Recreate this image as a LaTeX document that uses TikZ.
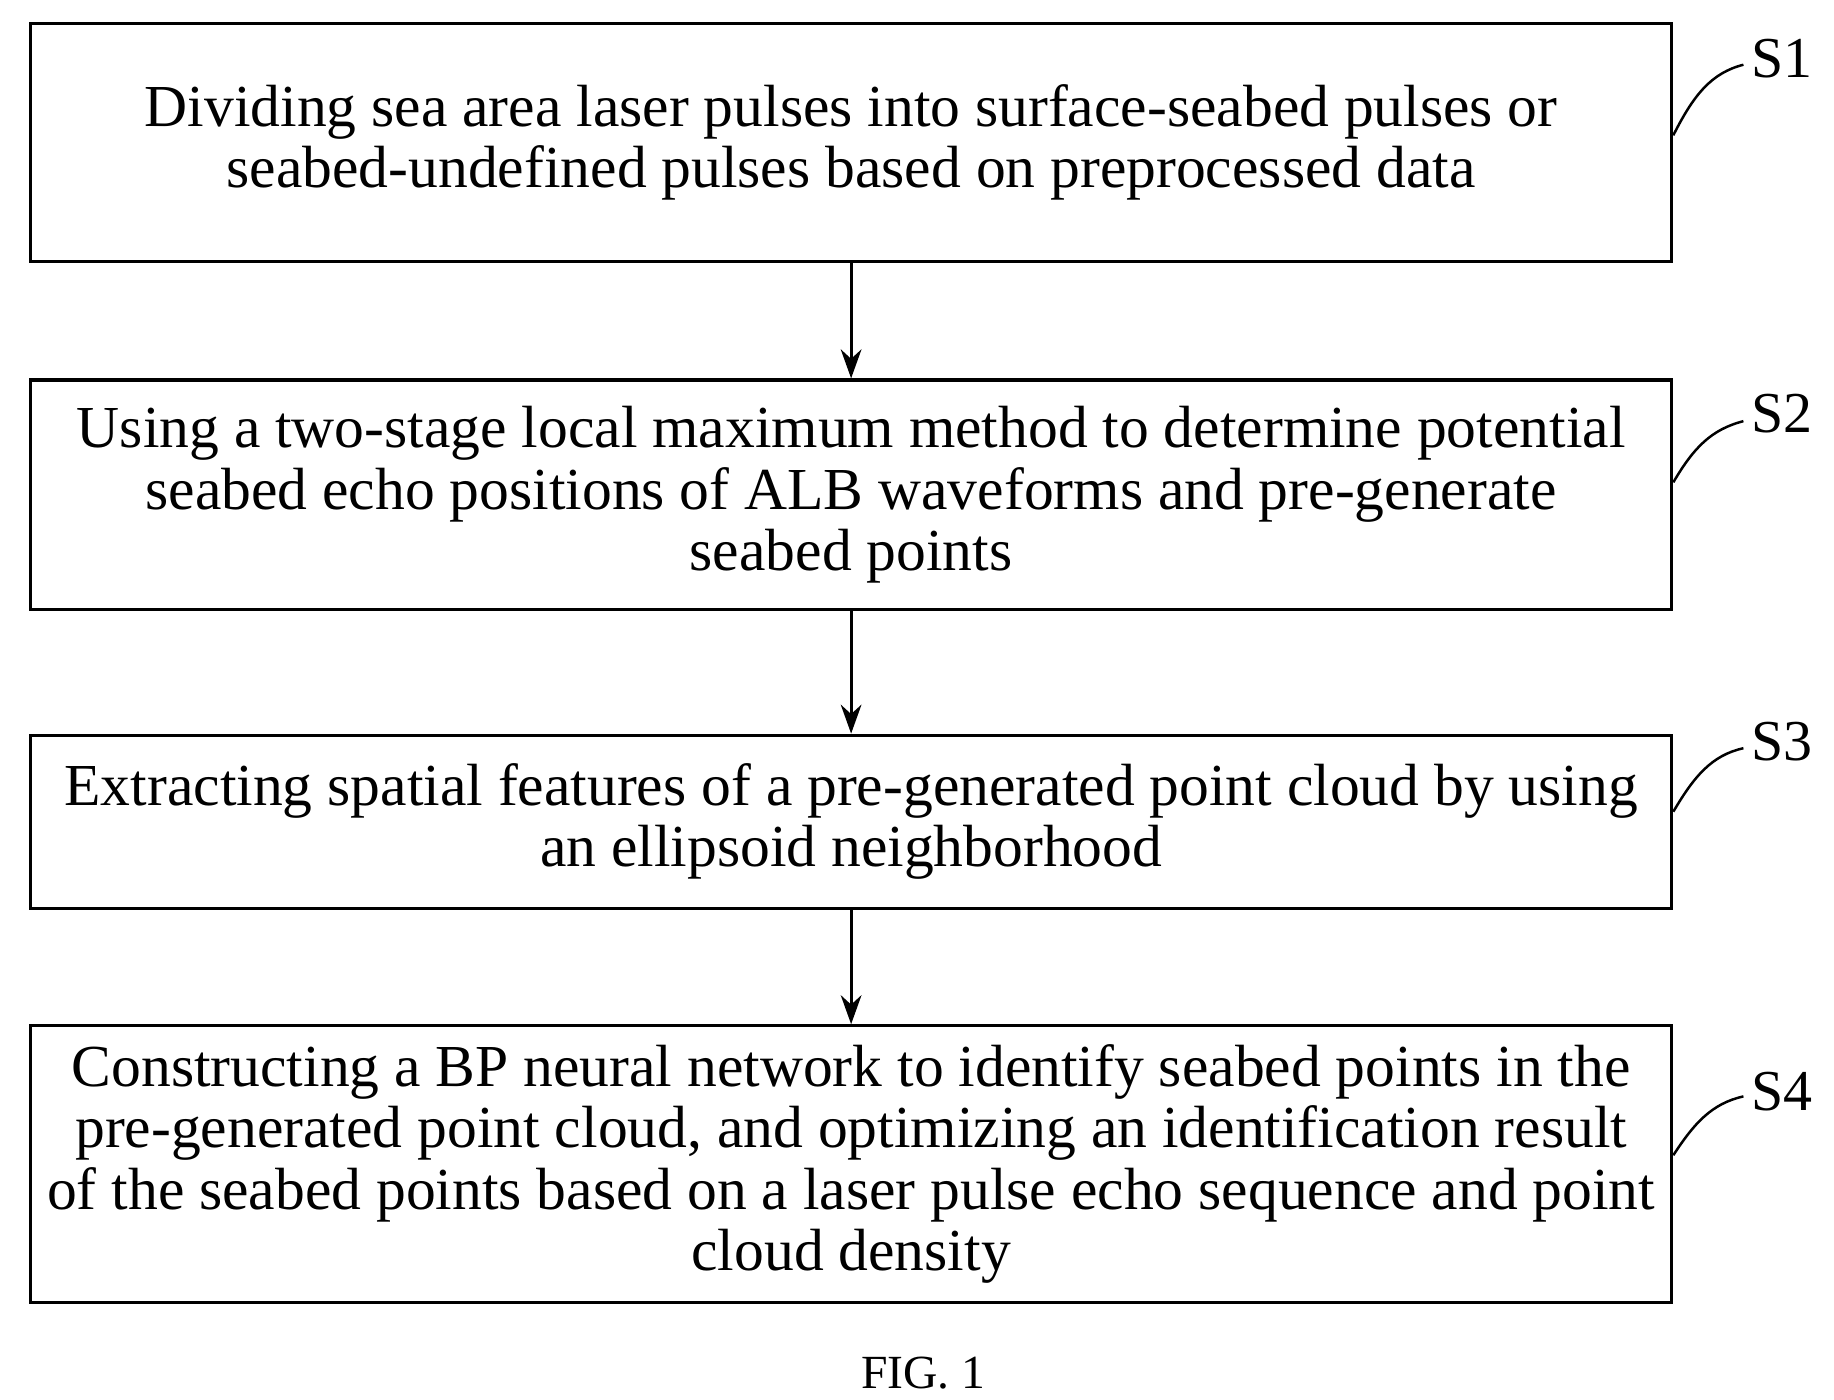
\documentclass[tikz,border=0pt]{standalone}
\usepackage{fontspec}
\setmainfont{Liberation Serif}
\usetikzlibrary{arrows.meta}
\begin{document}
\begin{tikzpicture}[x=0.01cm,y=-0.01cm,
  box/.style={draw,line width=0.8pt,minimum width=1395*0.01cm,align=center,inner sep=0pt,font=\fontsize{14.4}{14.8}\selectfont},
  arr/.style={-{Stealth[length=7pt,width=5pt]},line width=0.7pt},
  lab/.style={font=\fontsize{14}{14}\selectfont},
  tick/.style={line width=0.6pt}]
\useasboundingbox (0,0) rectangle (1559,1190);
\node[box,minimum height=202*0.01cm] (s1) at (723.5,121) {Dividing sea area laser pulses into surface-seabed pulses or\\seabed-undefined pulses based on preprocessed data};
\node[box,minimum height=195*0.01cm] (s2) at (723.5,420.5) {Using a two-stage local maximum method to determine potential\\seabed echo positions of ALB waveforms and pre-generate\\seabed points};
\node[box,minimum height=147*0.01cm] (s3) at (723.5,698.5) {Extracting spatial features of a pre-generated point cloud by using\\an ellipsoid neighborhood};
\node[box,minimum height=235*0.01cm] (s4) at (723.5,989.5) {Constructing a BP neural network to identify seabed points in the\\pre-generated point cloud, and optimizing an identification result\\of the seabed points based on a laser pulse echo sequence and point\\cloud density};
\draw[arr] (s1) -- (s2);
\draw[arr] (s2) -- (s3);
\draw[arr] (s3) -- (s4);
\node[lab] (l1) at (1515,50) {S1};
\node[lab] (l2) at (1515,352) {S2};
\node[lab] (l3) at (1515,630) {S3};
\node[lab] (l4) at (1515,928) {S4};
\draw[tick] (s1.east |- 0,115) .. controls (1440,80) and (1455,62) .. (1482,55);
\draw[tick] (s2.east |- 0,410) .. controls (1440,380) and (1455,365) .. (1482,358);
\draw[tick] (s3.east |- 0,690) .. controls (1440,660) and (1455,642) .. (1482,636);
\draw[tick] (s4.east |- 0,982) .. controls (1440,955) and (1455,938) .. (1482,932);
\node[font=\fontsize{11.5}{13}\selectfont] (fig) at (785,1167) {FIG. 1};
\end{tikzpicture}
\end{document}
